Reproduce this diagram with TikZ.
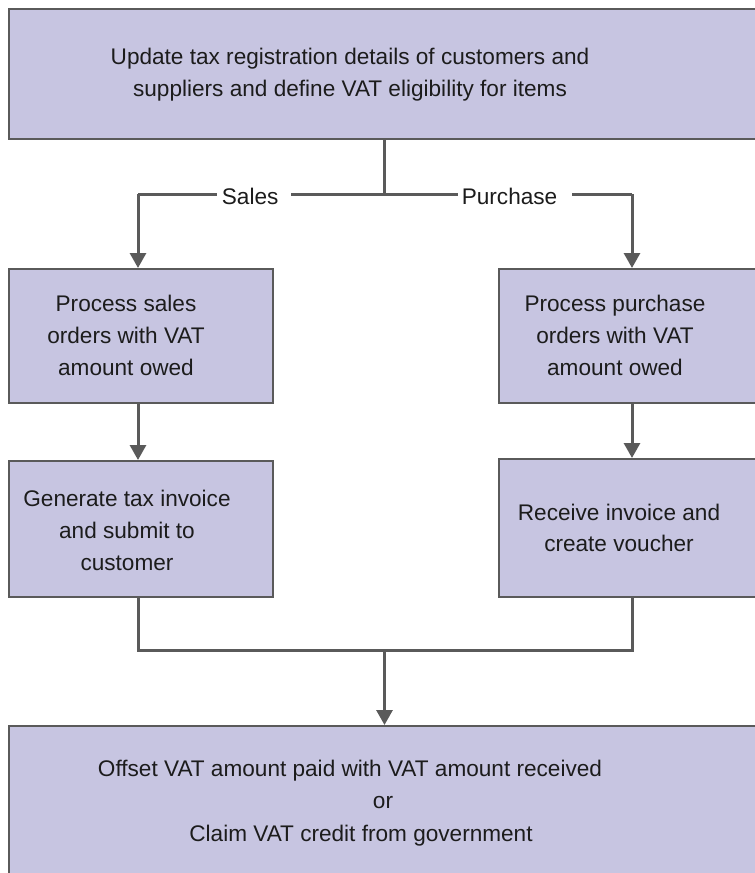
\documentclass[tikz,border=0pt]{standalone}
\usepackage{fontspec}
\setmainfont{Liberation Sans}
\usetikzlibrary{arrows.meta}
\definecolor{boxfill}{RGB}{199,197,225}
\definecolor{edgegray}{RGB}{90,90,90}
\definecolor{txt}{RGB}{28,28,28}
\begin{document}
\begin{tikzpicture}[x=1pt,y=-1pt,
  box/.style={draw=edgegray, line width=2.3pt, fill=boxfill, rectangle, inner sep=0pt, anchor=north west},
  txtnode/.style={text=txt, align=center, inner sep=0pt, font=\fontsize{22.6}{32}\selectfont},
  conn/.style={draw=edgegray, line width=3pt},
  arr/.style={conn, -{Triangle[width=16pt,length=15pt]}},
  lbl/.style={fill=white, text=txt, inner ysep=4pt, anchor=west, align=left, font=\fontsize{22.6}{27}\selectfont}]
\useasboundingbox (0,0) rectangle (755,873);
\clip (0,0) rectangle (755,873);
% boxes
\node[box, minimum width=760pt, minimum height=130.5pt] (top) at (7.5,7.5) {};
\node[box, minimum width=264pt, minimum height=134pt] (ls1) at (7.5,268) {};
\node[box, minimum width=264pt, minimum height=136pt] (ls2) at (7.5,460) {};
\node[box, minimum width=270pt, minimum height=134pt] (rp1) at (498,268) {};
\node[box, minimum width=270pt, minimum height=138pt] (rp2) at (498,458) {};
\node[box, minimum width=760pt, minimum height=160pt] (bot) at (7.5,725) {};
% texts
\node[txtnode, font=\fontsize{22.6}{31.7}\selectfont] (toptext) at (350,75) {Update tax registration details of customers and\\suppliers and define VAT eligibility for items};
\node[txtnode] (ls1text) at (126,335) {Process sales\\orders with VAT\\amount owed};
\node[txtnode] (ls2text) at (127,530) {Generate tax invoice\\and submit to\\customer};
\node[txtnode] (rp1text) at (615,335) {Process purchase\\orders with VAT\\amount owed};
\node[txtnode, font=\fontsize{22.6}{31}\selectfont] (rp2text) at (619,528) {Receive invoice and\\create voucher};
\node[txtnode, anchor=base] (bt1) at (350,776) {Offset VAT amount paid with VAT amount received};
\node[txtnode, anchor=base] (bt2) at (383,808.5) {or};
\node[txtnode, anchor=base] (bt3) at (361,841) {Claim VAT credit from government};
% junction coordinates
\coordinate (sx) at (138,0);
\coordinate (px) at (632,0);
\coordinate (cx) at (384.5,0);
\coordinate (jtop) at (384.5,194);
\coordinate (jbot) at (384.5,650);
% connectors
\draw[conn] (top.south -| cx) -- (jtop);
\draw[conn] (jtop -| sx) -- (jtop -| px);
\draw[arr] (jtop -| sx) -- (ls1.north -| sx);
\draw[arr] (jtop -| px) -- (rp1.north -| px);
\draw[arr] (ls1.south -| sx) -- (ls2.north -| sx);
\draw[arr] (rp1.south -| px) -- (rp2.north -| px);
\draw[conn] (ls2.south -| sx) -- (jbot -| sx) -- (jbot -| px) -- (rp2.south -| px);
\draw[arr] (jbot) -- (bot.north -| cx);
% labels
\node[lbl, inner xsep=4.7pt, text width=64.6pt] (sales) at (217,196.5) {Sales};
\node[lbl, inner xsep=3.6pt, text width=106.8pt] (purchase) at (458,196.5) {Purchase};
\end{tikzpicture}
\end{document}
